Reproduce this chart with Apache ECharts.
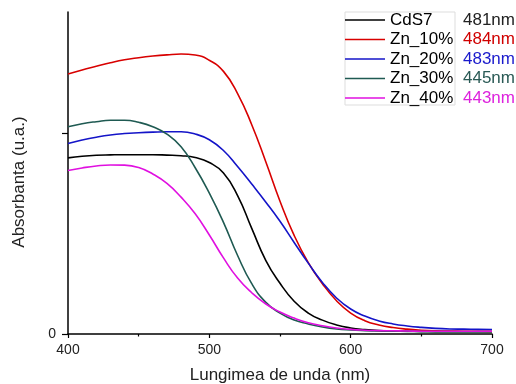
<!DOCTYPE html>
<html>
<head>
<meta charset="utf-8">
<script src="https://cdn.jsdelivr.net/npm/echarts@6/dist/echarts.min.js"></script>
<style>
  html, body { margin: 0; padding: 0; background: #fff; }
  #chart { width: 516px; height: 384px; }
</style>
</head>
<body>
<div id="chart"></div>
<script>
var wavelength = [400, 410, 420, 430, 440, 450, 460, 470, 480, 490, 500, 510, 520, 530, 540, 550,
  560, 570, 580, 590, 600, 610, 620, 630, 640, 650, 660, 670, 680, 690, 700];

var names = ['CdS7', 'Zn_10%', 'Zn_20%', 'Zn_30%', 'Zn_40%'];
var peaks = ['481nm', '484nm', '483nm', '445nm', '443nm'];

var cds7 = [0.875, 0.883, 0.888, 0.890, 0.891, 0.891, 0.891, 0.889, 0.886, 0.877, 0.852, 0.800, 0.688, 0.525, 0.365,
  0.252, 0.163, 0.104, 0.069, 0.045, 0.030, 0.022, 0.017, 0.015, 0.014, 0.013, 0.012, 0.012, 0.011, 0.011, 0.011];
var zn10 = [1.292, 1.312, 1.330, 1.348, 1.363, 1.373, 1.381, 1.387, 1.391, 1.386, 1.360, 1.305, 1.195, 1.040, 0.855,
  0.660, 0.490, 0.355, 0.250, 0.165, 0.104, 0.066, 0.045, 0.032, 0.024, 0.019, 0.016, 0.015, 0.014, 0.014, 0.013];
var zn20 = [0.947, 0.964, 0.978, 0.989, 0.996, 1.000, 1.003, 1.005, 1.005, 0.994, 0.965, 0.912, 0.832, 0.745, 0.655,
  0.560, 0.455, 0.352, 0.256, 0.179, 0.124, 0.089, 0.065, 0.050, 0.040, 0.033, 0.028, 0.025, 0.024, 0.023, 0.022];
var zn30 = [1.030, 1.045, 1.055, 1.062, 1.062, 1.052, 1.030, 0.993, 0.930, 0.826, 0.700, 0.555, 0.390, 0.250, 0.157,
  0.104, 0.069, 0.050, 0.035, 0.025, 0.020, 0.017, 0.015, 0.014, 0.013, 0.012, 0.012, 0.012, 0.012, 0.012, 0.012];
var zn40 = [0.812, 0.825, 0.835, 0.840, 0.839, 0.827, 0.795, 0.748, 0.680, 0.597, 0.492, 0.378, 0.278, 0.205, 0.149,
  0.109, 0.079, 0.056, 0.041, 0.030, 0.023, 0.019, 0.017, 0.016, 0.015, 0.014, 0.014, 0.014, 0.014, 0.014, 0.014];

var colors = ['#000000', '#d80000', '#1414c8', '#1f5a52', '#e010e0'];
var peakColors = ['#222222', '#d00000', '#1a1acc', '#2a5a55', '#dd22dd'];

function pairs(ys) {
  return wavelength.map(function (x, i) { return [x, ys[i]]; });
}

var chart = echarts.init(document.getElementById('chart'));

var rich = { n: { width: 73, fontSize: 17, color: '#000', fontFamily: 'Liberation Sans' } };
peaks.forEach(function (p, i) {
  rich['p' + i] = { fontSize: 17, color: peakColors[i], fontFamily: 'Liberation Sans' };
});

var option = {
  animation: false,
  color: colors,
  textStyle: { fontFamily: 'Liberation Sans' },
  grid: { left: 68, right: 24, top: 12, bottom: 50, containLabel: false, outerBoundsMode: 'none' },
  legend: {
    orient: 'vertical',
    left: 345,
    top: 10.25,
    padding: 0,
    icon: 'rect',
    itemWidth: 40,
    itemHeight: 1.6,
    itemGap: 0,
    data: names,
    textStyle: { fontSize: 17, lineHeight: 19.5, rich: rich },
    formatter: function (name) {
      var i = names.indexOf(name);
      return '{n|' + name + '}{p' + i + '|' + peaks[i] + '}';
    }
  },
  graphic: [{
    type: 'rect',
    shape: { x: 345, y: 12, width: 110, height: 93 },
    style: { fill: 'none', stroke: '#dddddd', lineWidth: 1 },
    silent: true
  }],
  xAxis: {
    type: 'value',
    min: 400,
    max: 700,
    interval: 100,
    name: 'Lungimea de unda (nm)',
    nameLocation: 'middle',
    nameGap: 33,
    nameTextStyle: { fontSize: 17, color: '#222' },
    axisLine: { onZero: false, lineStyle: { color: '#000', width: 1.5 } },
    axisTick: { length: 4, lineStyle: { color: '#000', width: 1.2 } },
    minorTick: { show: true, splitNumber: 2, length: 2.5, lineStyle: { color: '#000', width: 1.2 } },
    axisLabel: { fontSize: 14, color: '#222', margin: 9 },
    splitLine: { show: false }
  },
  yAxis: {
    type: 'value',
    min: 0,
    max: 1.6,
    name: 'Absorbanta (u.a.)',
    nameLocation: 'middle',
    nameGap: 40,
    nameTextStyle: { fontSize: 17, color: '#222', padding: [0, 18, 0, 0] },
    axisLine: { show: true, lineStyle: { color: '#000', width: 1.5 } },
    axisTick: { show: true, length: 6, customValues: [0, 1], lineStyle: { color: '#000', width: 1.2 } },
    axisLabel: { fontSize: 14, color: '#222', margin: 12, customValues: [0] },
    splitLine: { show: false }
  },
  series: [
    { name: names[0], type: 'line', data: pairs(cds7) },
    { name: names[1], type: 'line', data: pairs(zn10) },
    { name: names[2], type: 'line', data: pairs(zn20) },
    { name: names[3], type: 'line', data: pairs(zn30) },
    { name: names[4], type: 'line', data: pairs(zn40) }
  ].map(function (s) {
    s.smooth = 0.5;
    s.symbol = 'none';
    s.lineStyle = { width: 1.6 };
    return s;
  })
};

chart.setOption(option);
</script>
</body>
</html>
